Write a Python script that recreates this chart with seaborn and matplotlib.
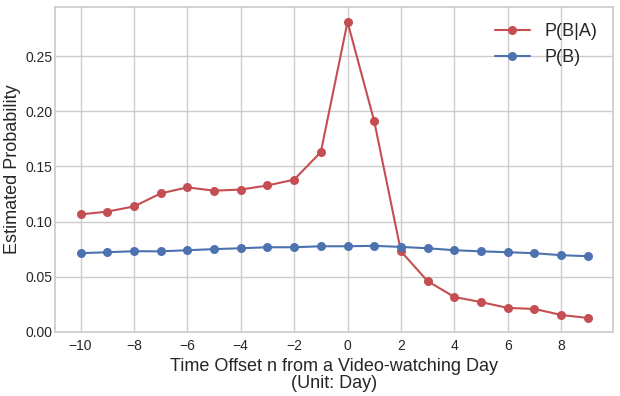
import matplotlib
matplotlib.use("Agg")
import matplotlib.pyplot as plt
import seaborn as sns
import pandas as pd

offsets = list(range(-10, 10))
p_b_given_a = [0.1065, 0.109, 0.1137, 0.1255, 0.131, 0.128, 0.129, 0.1327, 0.138, 0.163,
               0.281, 0.191, 0.073, 0.046, 0.0316, 0.027, 0.0217, 0.0208, 0.0153, 0.0126]
p_b = [0.0713, 0.0722, 0.0731, 0.073, 0.074, 0.075, 0.0758, 0.0767, 0.0767, 0.0776,
       0.0776, 0.078, 0.077, 0.0758, 0.074, 0.073, 0.0722, 0.0713, 0.0695, 0.0686]
series_names = ["P(B|A)", "P(B)"]

sns.set_theme(style="whitegrid")
plt.rcParams["font.family"] = ["Liberation Sans", "DejaVu Sans"]
plt.rcParams["axes.edgecolor"] = "0.8"

df = pd.DataFrame({
    "offset": offsets * 2,
    "prob": p_b_given_a + p_b,
    "series": [series_names[0]] * len(offsets) + [series_names[1]] * len(offsets),
})

fig, ax = plt.subplots(figsize=(6.2, 3.96), dpi=100)
fig.subplots_adjust(left=0.089, right=0.989, top=0.982, bottom=0.162)
palette = {"P(B|A)": "#C44E52", "P(B)": "#4C72B0"}
sns.lineplot(data=df, x="offset", y="prob", hue="series", palette=palette,
             marker="o", markersize=6.5, markeredgewidth=0, linewidth=1.5, ax=ax)
ax.set_ylim(bottom=0)
ax.set_xticks(range(-10, 10, 2))
ax.tick_params(axis="both", labelsize=10, colors="0.15", length=0)
ax.tick_params(axis="y", pad=2)
ax.tick_params(axis="x", pad=5)
ax.set_xlabel("Time Offset n from a Video-watching Day\n(Unit: Day)", fontsize=13, linespacing=1.0, labelpad=4)
ax.set_ylabel("Estimated Probability", fontsize=13, labelpad=3)
leg = ax.legend(fontsize=13, frameon=False, loc="upper right", handlelength=1.9,
                borderaxespad=0.5)
leg.set_title(None)
for sp in ax.spines.values():
    sp.set_color("0.8")
fig.savefig("out.png", dpi=100)
